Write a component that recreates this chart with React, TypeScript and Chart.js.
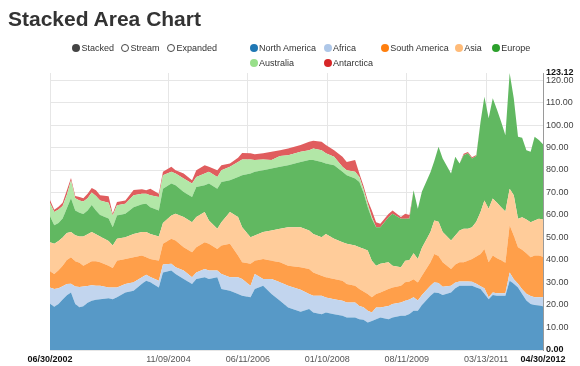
import { useEffect, useRef } from "react";
import { Chart, registerables } from "chart.js";

Chart.register(...registerables);

const months = [
  "2002-06","2002-07","2002-08","2002-09","2002-10","2002-11","2002-12","2003-01","2003-02","2003-03","2003-04","2003-05","2003-06",
  "2003-08","2003-09","2003-10","2003-12",
  "2004-02","2004-04","2004-05","2004-06","2004-08","2004-09","2004-11","2004-12",
  "2005-02","2005-04","2005-05","2005-07","2005-08","2005-10","2005-11",
  "2006-01","2006-03","2006-04","2006-06","2006-07","2006-09","2006-11",
  "2007-01","2007-03","2007-06","2007-08","2007-09","2007-11","2007-12",
  "2008-02","2008-04","2008-05","2008-07","2008-08","2008-09","2008-10","2008-11","2008-12",
  "2009-01","2009-03","2009-04","2009-06","2009-07","2009-08","2009-09","2009-10","2009-11",
  "2010-01","2010-02","2010-03","2010-04","2010-06","2010-07","2010-08","2010-09","2010-10","2010-11","2010-12",
  "2011-01","2011-02","2011-03","2011-04","2011-05","2011-06","2011-07","2011-08","2011-09","2011-10","2011-11","2011-12",
  "2012-01","2012-02","2012-03","2012-04",
];

const northAmerica = [
  20.6,19.2,20.5,22.5,24.3,25.6,20.5,19.0,19.5,21.0,21.9,22.3,22.6,
  23.0,22.6,23.5,25.6,
  26.3,29.5,30.8,30.1,27.8,34.5,35.3,33.8,
  31.6,29.3,31.6,32.3,31.6,32.3,27.1,
  26.3,24.9,24.1,23.4,27.1,28.6,24.9,
  21.9,18.9,17.0,18.2,16.7,15.9,16.7,
  15.9,15.2,14.4,14.4,13.7,13.5,12.2,12.9,13.7,
  14.4,13.7,14.4,15.2,15.2,16.0,17.5,17.5,20.0,
  24.1,25.6,25.3,24.4,25.6,27.5,28.6,28.6,28.6,28.6,27.8,
  27.1,25.0,22.6,24.4,24.1,24.1,24.1,30.8,29.5,27.8,24.9,22.0,
  20.5,20.0,19.8,19.5,
];

const africa = [
  7.2,7.9,7.0,5.8,5.0,3.9,7.7,9.0,8.7,7.5,6.9,6.3,6.0,
  4.8,5.2,4.3,3.7,
  3.8,2.8,2.7,2.4,3.0,3.5,3.0,3.0,
  3.7,3.0,2.9,3.7,3.7,3.0,6.7,
  6.0,7.4,7.5,5.2,6.7,3.0,6.7,
  8.2,9.7,9.8,6.7,7.4,8.2,6.6,
  6.7,6.7,6.7,6.7,5.9,5.5,5.2,3.8,5.2,
  4.5,5.9,6.0,5.9,6.7,6.5,6.0,4.5,4.5,
  4.5,4.5,4.5,3.7,3.0,2.5,1.9,1.9,1.9,1.7,1.7,
  1.2,2.5,0.9,1.2,1.1,1.1,1.1,3.7,2.0,1.7,2.1,3.0,
  3.5,3.5,3.7,4.0,
];

const southAmerica = [
  7.2,6.7,8.0,9.2,10.7,11.7,11.3,10.8,9.3,10.0,10.7,10.9,10.4,
  9.7,8.7,11.9,11.2,
  11.1,9.7,7.7,8.0,8.9,9.2,11.1,11.9,
  10.4,11.2,11.2,11.9,11.9,9.6,12.6,
  14.9,9.7,7.4,9.7,5.9,8.9,8.1,
  8.9,8.9,10.0,11.1,10.4,8.9,9.0,
  9.0,8.9,8.2,7.5,7.5,7.0,7.5,6.7,6.0,
  6.7,7.5,7.4,7.5,8.2,8.0,8.0,8.0,8.5,
  10.4,12.6,12.0,10.9,7.4,8.0,8.5,8.5,9.2,10.2,12.1,
  14.4,17.4,15.5,16.4,15.6,14.7,13.6,20.9,19.4,16.2,17.6,18.0,
  17.2,18.5,18.5,18.0,
];

const asia = [
  12.9,13.4,13.0,12.5,12.0,11.3,11.5,11.7,13.0,13.0,12.9,12.0,11.5,
  11.0,9.9,9.7,9.6,
  10.4,10.5,11.2,11.1,10.8,9.3,10.4,11.9,
  13.4,13.3,13.4,13.4,10.4,9.0,10.4,
  14.1,17.1,15.6,11.8,11.2,11.9,13.4,
  14.9,17.1,17.8,17.1,17.1,17.1,19.3,
  17.8,17.1,17.9,17.8,18.6,19.0,19.3,16.3,12.6,
  12.7,11.9,9.7,8.2,9.6,9.5,11.5,10.5,12.5,
  13.4,14.9,15.2,13.4,12.7,12.9,14.1,14.9,14.2,14.1,15.4,
  18.6,21.6,23.8,25.3,24.7,23.6,22.8,16.3,17.9,12.6,14.4,15.0,
  15.6,15.6,16.3,16.5,
];

const europe = [
  11.6,8.3,8.0,8.5,11.0,15.0,11.0,10.5,10.0,10.5,12.1,10.5,9.5,
  10.0,8.2,10.4,10.5,
  11.9,12.3,12.6,11.9,11.5,15.2,14.2,12.6,
  11.1,11.2,13.4,11.9,16.4,17.8,17.9,
  14.1,17.8,23.1,28.3,28.3,27.5,27.6,
  27.5,27.5,29.0,31.3,32.8,33.5,31.3,
  32.7,31.3,30.5,29.8,29.0,25.0,19.3,18.6,17.1,
  16.3,20.0,23.1,21.5,18.6,18.5,28.0,22.3,25.0,
  26.6,26.4,33.3,32.7,29.7,35.0,29.8,32.7,33.5,30.5,29.2,
  40.2,46.1,40.2,44.6,41.3,38.0,33.9,51.42,43.1,36.5,35.3,30.8,
  31.3,37.2,35.0,33.5,
];

const australia = [
  5.8,5.8,6.0,5.5,6.0,7.8,5.5,5.5,5.5,5.5,5.5,6.5,6.5,
  7.0,5.2,4.5,4.4,
  5.3,4.7,4.5,5.3,6.0,6.0,5.2,5.2,
  6.0,6.0,4.4,5.2,5.2,5.2,5.2,
  6.0,6.7,7.0,6.3,5.2,4.8,3.7,
  4.8,4.5,4.5,4.4,5.2,5.2,4.5,
  3.8,2.2,2.2,3.0,2.2,1.5,1.5,0.8,0,
  0,0,0,0,0,0,0,0,0,
  0,0,0,0,0,0,0,0,0,0,0,
  0,0,0,0,0,0,0,0,0,0,0,0,
  0,0,0,0,
];

const antarctica = [
  1.4,1.0,1.2,1.5,2.0,1.2,1.0,1.5,1.5,2.0,2.0,2.5,2.3,
  2.8,0.8,1.5,1.5,
  2.3,2.0,1.5,2.9,1.5,1.5,2.2,1.5,
  2.2,1.5,3.0,3.7,2.2,3.0,2.2,
  1.5,1.9,2.9,2.7,2.6,2.7,3.7,
  2.6,3.0,3.0,3.8,3.4,3.8,3.7,
  2.9,4.5,3.7,5.2,1.5,1.5,1.5,2.9,2.2,
  1.5,1.5,1.4,0.8,2.3,1.5,0,0,0,
  0,0,0,0,0,0,0,0.6,0.6,0.6,0.5,
  0,0,0,0,0,0,0,0,0,0,0,0,
  0,0,0,0,
];

const seriesNames = ["North America", "Africa", "South America", "Asia", "Europe", "Australia", "Antarctica"];
const seriesColors = ["#1f77b4", "#aec7e8", "#ff7f0e", "#ffbb78", "#2ca02c", "#98df8a", "#d62728"];
const xTickLabels = ["06/30/2002", "11/09/2004", "06/11/2006", "01/10/2008", "08/11/2009", "03/13/2011", "04/30/2012"];
const yTickValues = [0, 10, 20, 30, 40, 50, 60, 70, 80, 90, 100, 110, 120];
const modeOptions = ["Stacked", "Stream", "Expanded"];

const FONT = "'Liberation Sans', Arial, Helvetica, sans-serif";

function monthEnd(s: string) {
  const [y, m] = s.split("-").map(Number);
  return Date.UTC(y, m, 0);
}
function parseMDY(s: string) {
  const [m, d, y] = s.split("/").map(Number);
  return Date.UTC(y, m - 1, d);
}
function blend(hex: string, a: number) {
  const n = parseInt(hex.slice(1), 16);
  const r = (n >> 16) & 255, g = (n >> 8) & 255, b = n & 255;
  const f = (c: number) => Math.round(c * a + 255 * (1 - a));
  return `rgb(${f(r)},${f(g)},${f(b)})`;
}

export default function App() {
  const ref = useRef<HTMLCanvasElement>(null);

  useEffect(() => {
    const xs = months.map(monthEnd);
    const series = [northAmerica, africa, southAmerica, asia, europe, australia, antarctica];
    const totals = xs.map((_, i) => series.reduce((s, arr) => s + arr[i], 0));
    const yMax = Math.round(Math.max(...totals) * 100) / 100;
    const yTicks = [...yTickValues, yMax];
    const xTickValues = xTickLabels.map(parseMDY);
    const lastX = xTickLabels.length - 1;

    const chart = new Chart(ref.current!, {
      type: "line",
      data: {
        datasets: series.map((vals, si) => ({
          label: seriesNames[si],
          data: vals.map((v, i) => ({ x: xs[i], y: v })),
          backgroundColor: blend(seriesColors[si], 0.75),
          borderColor: "rgba(0,0,0,0)",
          borderWidth: 0,
          pointRadius: 0,
          pointHoverRadius: 0,
          fill: si === 0 ? "origin" : "-1",
          tension: 0,
        })),
      },
      options: {
        animation: false,
        responsive: false,
        events: [],
        layout: { padding: { left: 50, top: 73, right: 0, bottom: 0 } },
        plugins: { legend: { display: false }, tooltip: { enabled: false } },
        scales: {
          x: {
            type: "linear",
            min: xTickValues[0],
            max: xTickValues[lastX],
            afterBuildTicks: (s: any) => {
              s.ticks = xTickValues.map((v) => ({ value: v }));
            },
            afterFit: (s: any) => {
              s.height = 16;
            },
            grid: { color: "#e6e6e6", drawTicks: false },
            border: { display: false },
            ticks: {
              autoSkip: false,
              maxRotation: 0,
              minRotation: 0,
              padding: 4,
              callback: (_v: any, i: number) => xTickLabels[i],
              font: (c: any) => ({
                family: FONT,
                size: 9,
                weight: c.index === 0 || c.index === lastX ? "bold" : "normal",
              }),
              color: (c: any) => (c.index === 0 || c.index === lastX ? "#111" : "#555"),
            },
          },
          y: {
            type: "linear",
            position: "right",
            stacked: true,
            min: 0,
            max: yMax,
            afterBuildTicks: (s: any) => {
              s.ticks = yTicks.map((v) => ({ value: v }));
            },
            afterFit: (s: any) => {
              s.width = 37;
            },
            grid: {
              drawTicks: false,
              color: (c: any) => (c.tick && c.tick.value === yMax ? "rgba(0,0,0,0)" : "#e6e6e6"),
            },
            border: { display: true, color: "#9a9a9a", width: 1 },
            ticks: {
              autoSkip: false,
              padding: 3,
              callback: (v: any) => Number(v).toFixed(2),
              font: (c: any) => ({
                family: FONT,
                size: 9,
                weight: c.tick && (c.tick.value === 0 || c.tick.value === yMax) ? "bold" : "normal",
              }),
              color: (c: any) => (c.tick && (c.tick.value === 0 || c.tick.value === yMax) ? "#111" : "#444"),
            },
          },
        },
      },
    } as any);
    return () => chart.destroy();
  }, []);

  const modePos = [76, 125, 171];
  const seriesPos: [number, number][] = [
    [253.5, 48], [327.5, 48], [384.7, 48], [458.7, 48], [495.7, 48], [253.5, 63], [327.5, 63],
  ];

  const item = (key: string, cx: number, cy: number, dot: any, text: string) => (
    <div
      key={key}
      style={{
        position: "absolute",
        left: cx - 4,
        top: cy - 6,
        height: 12,
        display: "flex",
        alignItems: "center",
        gap: 1.5,
        whiteSpace: "nowrap",
        fontSize: 9,
        color: "#333",
      }}
    >
      <span style={{ width: 8, height: 8, borderRadius: "50%", boxSizing: "border-box", ...dot }} />
      <span>{text}</span>
    </div>
  );

  return (
    <div
      style={{
        position: "absolute",
        left: 0,
        top: 0,
        width: 580,
        height: 366,
        background: "#fff",
        fontFamily: FONT,
        overflow: "hidden",
      }}
    >
      <canvas
        ref={ref}
        width={580}
        height={366}
        style={{ position: "absolute", left: 0, top: 0, width: 580, height: 366 }}
      />
      <div
        style={{
          position: "absolute",
          left: 8,
          top: 8,
          fontSize: 21,
          lineHeight: "21px",
          fontWeight: "bold",
          color: "#333",
          whiteSpace: "nowrap",
        }}
      >
        Stacked Area Chart
      </div>
      {modeOptions.map((m, i) =>
        item(
          "m" + i,
          modePos[i],
          48,
          i === 0 ? { background: "#444" } : { border: "1px solid #444", background: "#fff" },
          m
        )
      )}
      {seriesNames.map((n, i) =>
        item("s" + i, seriesPos[i][0], seriesPos[i][1], { background: seriesColors[i] }, n)
      )}
    </div>
  );
}
